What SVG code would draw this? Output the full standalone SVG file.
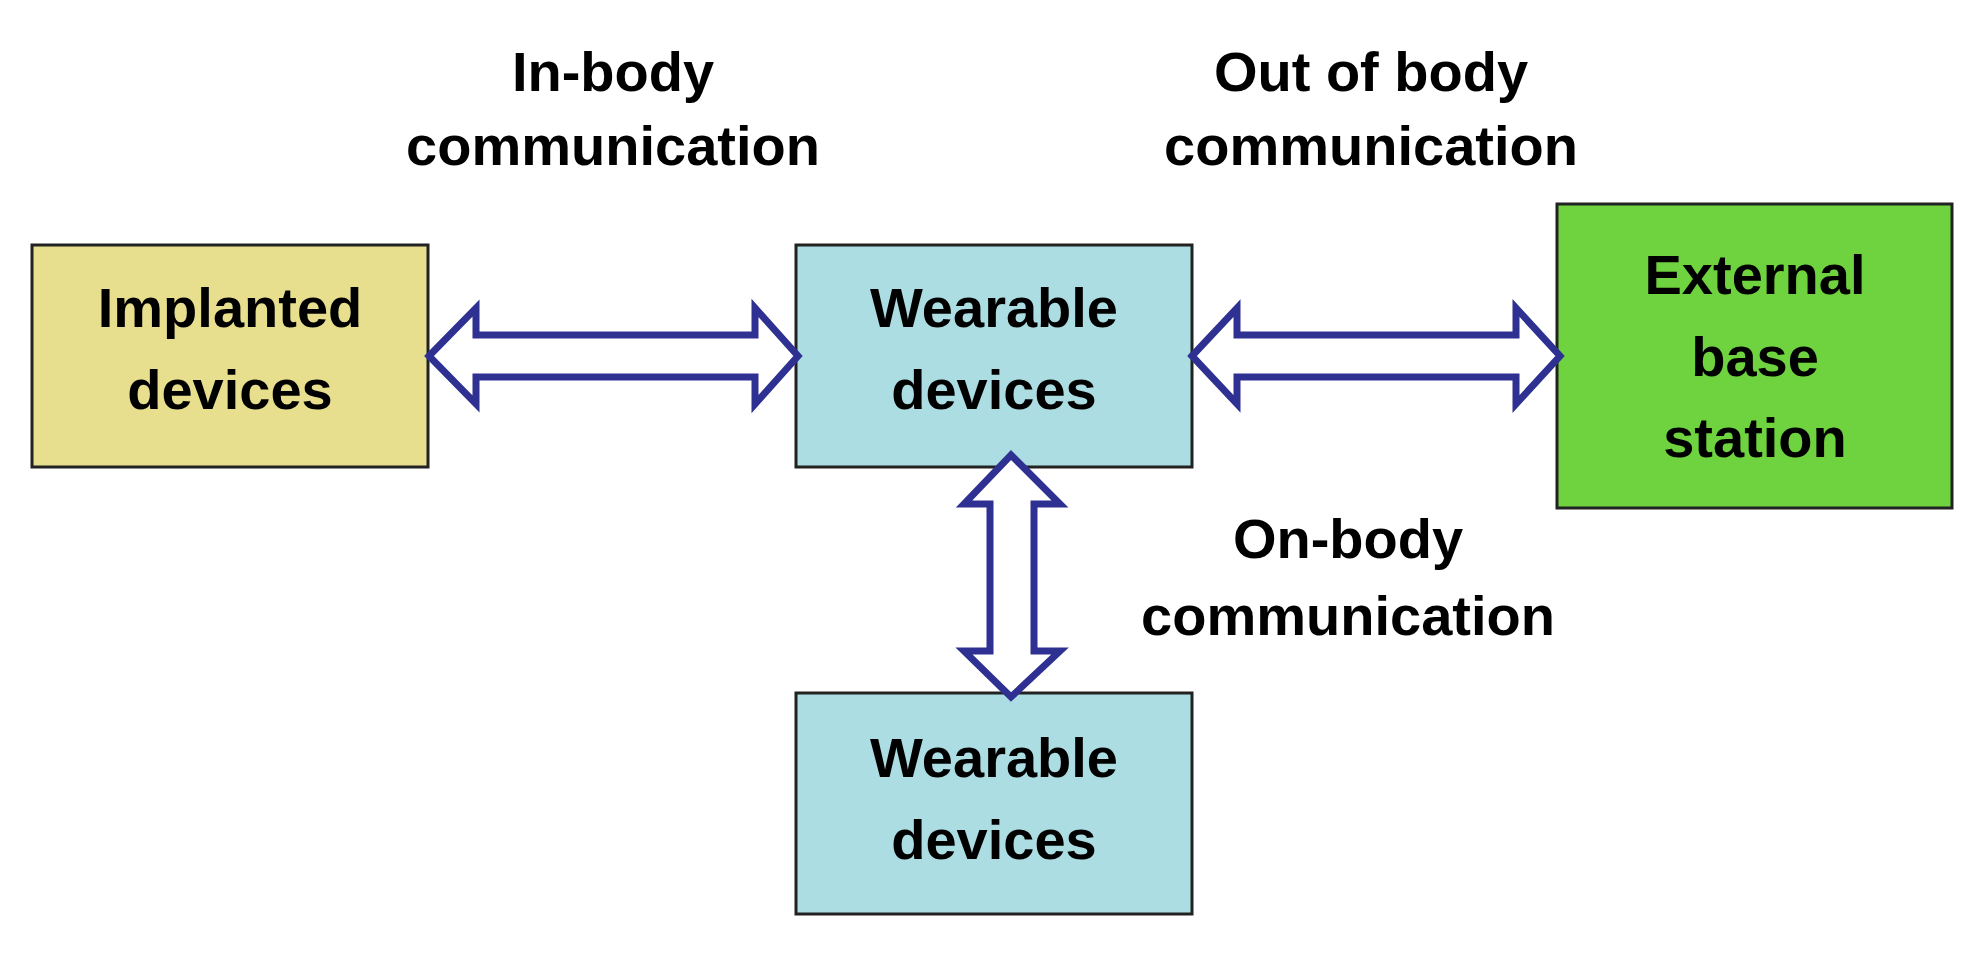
<svg xmlns="http://www.w3.org/2000/svg" width="1979" height="953" viewBox="0 0 1979 953">
<style>
.n{stroke:#222;stroke-width:3}
.t{font-family:"Liberation Sans",Arial,sans-serif;font-weight:bold;font-size:56px;text-anchor:middle;fill:#000}
.a{fill:#fff;stroke:#2e3192;stroke-width:7;stroke-linejoin:miter}
</style>
<rect width="1979" height="953" fill="#fff"/>
<g id="implanted"><rect class="n" x="32" y="245" width="396" height="222" fill="#e8df8e"/>
<text class="t" x="230" y="327">Implanted</text><text class="t" x="230" y="409">devices</text></g>
<g id="wearable1"><rect class="n" x="796" y="245" width="396" height="222" fill="#abdde3"/>
<text class="t" x="994" y="327">Wearable</text><text class="t" x="994" y="409">devices</text></g>
<g id="external"><rect class="n" x="1557" y="204" width="395" height="304" fill="#6fd23f"/>
<text class="t" x="1755" y="294">External</text><text class="t" x="1755" y="376">base</text><text class="t" x="1755" y="457">station</text></g>
<g id="wearable2"><rect class="n" x="796" y="693" width="396" height="221" fill="#abdde3"/>
<text class="t" x="994" y="777">Wearable</text><text class="t" x="994" y="859">devices</text></g>
<g id="connectors">
<path class="a" d="M429,356 L476,308 L476,335 L755,335 L755,308 L798,356 L755,404 L755,377 L476,377 L476,404 Z"/>
<path class="a" d="M1192,356 L1237,308 L1237,335 L1516,335 L1516,308 L1560,356 L1516,404 L1516,377 L1237,377 L1237,404 Z"/>
<path class="a" d="M1011,455 L1060,504 L1034,504 L1034,651 L1060,651 L1011,697 L964,651 L990,651 L990,504 L964,504 Z"/>
</g>
<g id="labels">
<text class="t" x="613" y="91">In-body</text><text class="t" x="613" y="165">communication</text>
<text class="t" x="1371" y="91">Out of body</text><text class="t" x="1371" y="165">communication</text>
<text class="t" x="1348" y="558">On-body</text><text class="t" x="1348" y="635">communication</text>
</g>
</svg>
